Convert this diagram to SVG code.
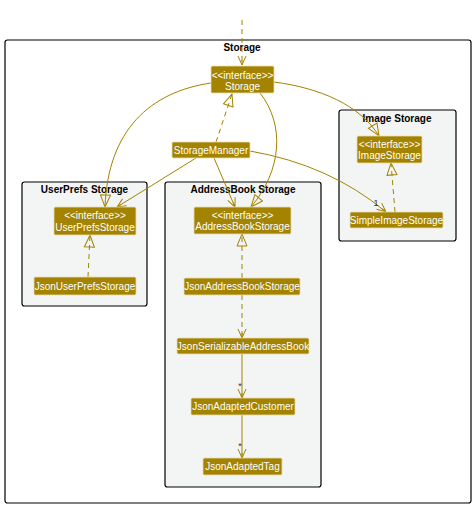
<svg xmlns="http://www.w3.org/2000/svg" width="475" height="507" viewBox="0 0 475 507">
<style>
.pkg{fill:#F3F4F4;stroke:#000;stroke-width:1.2}
.outer{fill:#FFFFFF;stroke:#000;stroke-width:1.2}
.ptitle{font-family:"Liberation Sans",Arial,sans-serif;font-weight:bold;font-size:10px;fill:#000;text-anchor:middle}
.node rect{fill:#A38300;stroke:#E8DDB0;stroke-width:0.8}
.node text{font-family:"Liberation Sans",Arial,sans-serif;font-size:10px;fill:#FFFFFF;text-anchor:middle}
.c{fill:none;stroke:#A38300;stroke-width:1}
.d{stroke-dasharray:5,4}
.lbl{font-family:"Liberation Sans",Arial,sans-serif;font-size:9px;fill:#333;text-anchor:middle}
</style>
<defs>
<marker id="open" markerWidth="12" markerHeight="12" refX="10" refY="5" orient="auto" markerUnits="userSpaceOnUse">
<path d="M1,1 L10,5 L1,9 M5,5 L10,5" fill="none" stroke="#A38300" stroke-width="1"/>
</marker>
<marker id="tri" markerWidth="14" markerHeight="14" refX="13" refY="6" orient="auto" markerUnits="userSpaceOnUse">
<path d="M1,1 L13,6 L1,11 Z" fill="none" stroke="#A38300" stroke-width="1"/>
</marker>
</defs>

<rect class="outer" x="5" y="40" width="466" height="463" rx="2.5"/>
<text class="ptitle" x="242" y="51">Storage</text>

<g id="pkg-image">
<rect class="pkg" x="339" y="110" width="117" height="131" rx="2.5"/>
<text class="ptitle" x="397" y="122">Image Storage</text>
</g>
<g id="pkg-userprefs">
<rect class="pkg" x="22" y="182" width="125" height="124" rx="2.5"/>
<text class="ptitle" x="84.5" y="193">UserPrefs Storage</text>
</g>
<g id="pkg-addressbook">
<rect class="pkg" x="165" y="182" width="156" height="305" rx="2.5"/>
<text class="ptitle" x="243" y="193">AddressBook Storage</text>
</g>

<g id="connectors">
<path class="c d" d="M242,20 L242,65" marker-end="url(#open)"/>
<path class="c d" d="M216,142 L232,94" marker-end="url(#tri)"/>
<path class="c" d="M196,158 L117,207" marker-end="url(#open)"/>
<path class="c" d="M214,158 L235,207" marker-end="url(#open)"/>
<path class="c" d="M250,151 Q330,165 386,212" marker-end="url(#open)"/>
<path class="c" d="M211,83 C150,92 108,130 105,207" marker-end="url(#tri)"/>
<path class="c" d="M260,93 C285,125 282,170 251,207" marker-end="url(#tri)"/>
<path class="c" d="M274,82 C320,88 360,105 379,136" marker-end="url(#tri)"/>
<path class="c d" d="M395,212 L391,163" marker-end="url(#tri)"/>
<path class="c d" d="M88,277 L90,235" marker-end="url(#tri)"/>
<path class="c d" d="M242,278 L242,234" marker-end="url(#tri)"/>
<path class="c d" d="M242,295 L242,338" marker-end="url(#open)"/>
<path class="c" d="M242,354 L242,398" marker-end="url(#open)"/>
<path class="c" d="M242,415 L242,458" marker-end="url(#open)"/>
<text class="lbl" x="376" y="206">1</text>
<text class="lbl" x="240" y="389">*</text>
<text class="lbl" x="240" y="449">*</text>
</g>

<g id="node-storage" class="node">
<rect x="211" y="66" width="63" height="27" rx="1.5"/>
<text x="242.5" y="78.5">&lt;&lt;interface&gt;&gt;</text>
<text x="242.5" y="89.5">Storage</text>
</g>
<g id="node-storagemanager" class="node">
<rect x="172" y="142" width="78" height="16" rx="1.5"/>
<text x="211" y="153.5">StorageManager</text>
</g>
<g id="node-imagestorage" class="node">
<rect x="357" y="136" width="65" height="27" rx="1.5"/>
<text x="389.5" y="148">&lt;&lt;interface&gt;&gt;</text>
<text x="389.5" y="159">ImageStorage</text>
</g>
<g id="node-simpleimagestorage" class="node">
<rect x="350" y="212" width="93" height="16" rx="1.5"/>
<text x="396.5" y="223.5">SimpleImageStorage</text>
</g>
<g id="node-userprefsstorage" class="node">
<rect x="54" y="207" width="82" height="28" rx="1.5"/>
<text x="95" y="219">&lt;&lt;interface&gt;&gt;</text>
<text x="95" y="230.5">UserPrefsStorage</text>
</g>
<g id="node-jsonuserprefsstorage" class="node">
<rect x="34" y="277" width="102" height="18" rx="1.5"/>
<text x="85" y="289.5">JsonUserPrefsStorage</text>
</g>
<g id="node-addressbookstorage" class="node">
<rect x="194" y="207" width="97" height="27" rx="1.5"/>
<text x="242.5" y="219">&lt;&lt;interface&gt;&gt;</text>
<text x="242.5" y="230">AddressBookStorage</text>
</g>
<g id="node-jsonaddressbookstorage" class="node">
<rect x="184" y="278" width="116" height="17" rx="1.5"/>
<text x="242" y="290">JsonAddressBookStorage</text>
</g>
<g id="node-jsonserializableaddressbook" class="node">
<rect x="177" y="338" width="132" height="16" rx="1.5"/>
<text x="243" y="349.5">JsonSerializableAddressBook</text>
</g>
<g id="node-jsonadaptedcustomer" class="node">
<rect x="191" y="398" width="104" height="17" rx="1.5"/>
<text x="243" y="410">JsonAdaptedCustomer</text>
</g>
<g id="node-jsonadaptedtag" class="node">
<rect x="203" y="458" width="79" height="17" rx="1.5"/>
<text x="242.5" y="470">JsonAdaptedTag</text>
</g>
</svg>
